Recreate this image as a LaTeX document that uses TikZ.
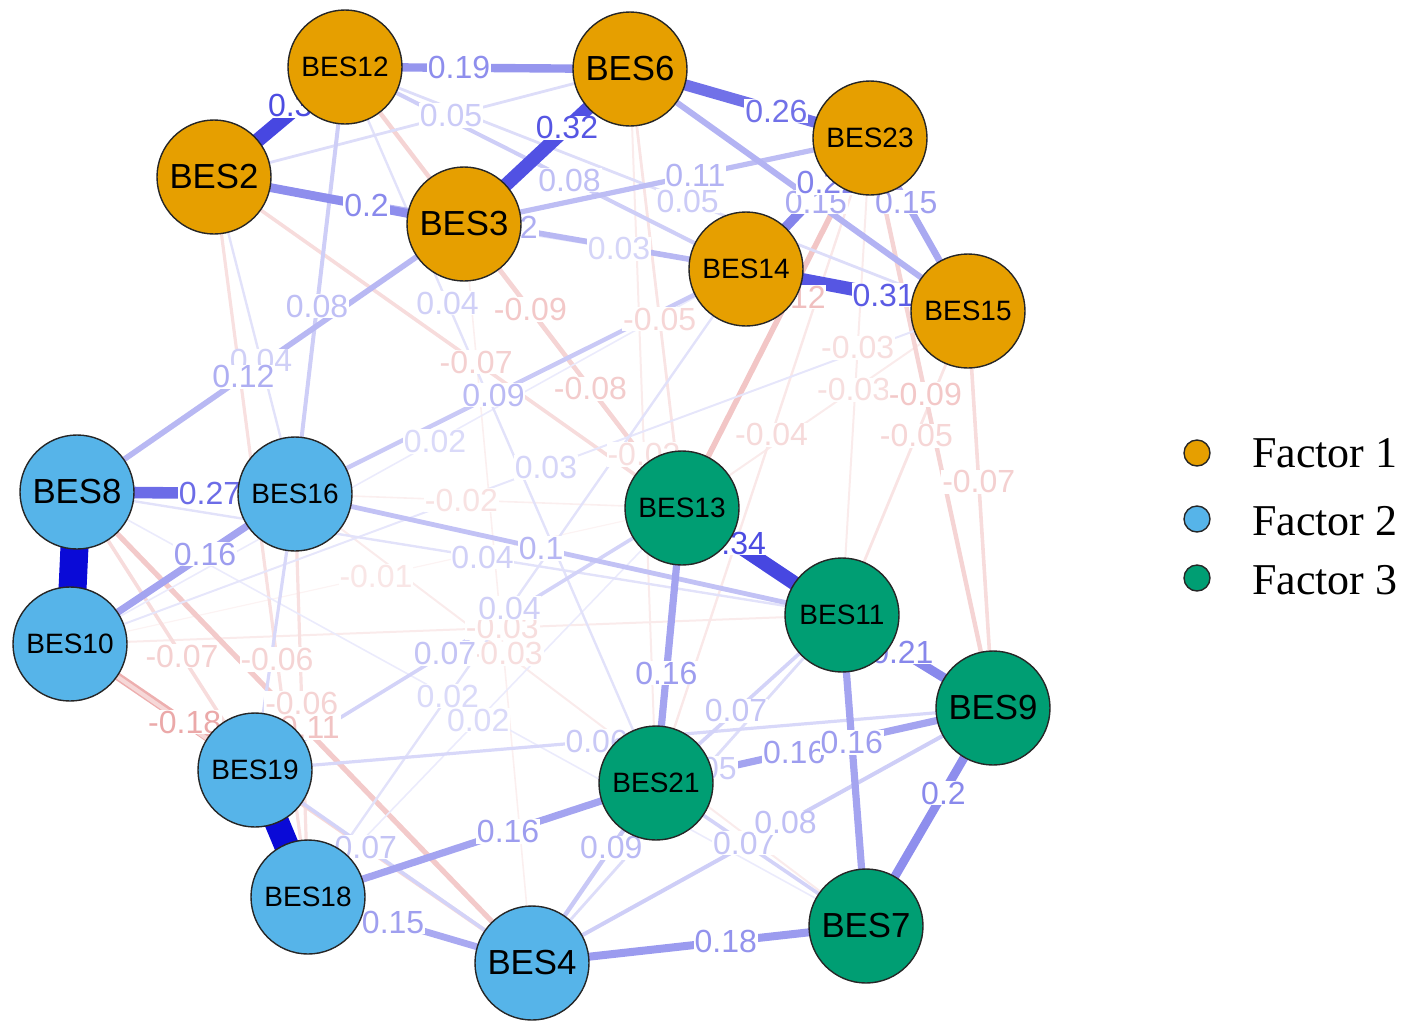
\documentclass[tikz,border=0pt]{standalone}
\usepackage{fontspec}
\setmainfont{Liberation Serif}
\newfontfamily\arialfont{Liberation Sans}
\usepackage{xcolor}

\definecolor{fac1}{RGB}{230,159,0}
\definecolor{fac2}{RGB}{86,180,233}
\definecolor{fac3}{RGB}{0,158,115}
\definecolor{posc}{RGB}{10,10,215}
\definecolor{negc}{RGB}{210,60,60}

\pgfdeclarelayer{edges}
\pgfdeclarelayer{labels}
\pgfsetlayers{edges,labels,main}

\tikzset{
  bes/.style={circle, draw=black!85, line width=0.7pt, minimum size=57pt, inner sep=0pt, text=black},
  besfour/.style={bes, font=\arialfont\fontsize{17.4}{19}\selectfont},
  besfive/.style={bes, font=\arialfont\fontsize{14}{16}\selectfont},
  wlabel/.style={fill=white, inner sep=0.4pt, font=\arialfont\fontsize{16}{17}\selectfont},
  key/.style={circle, draw=black!85, line width=0.7pt, minimum size=13pt, inner sep=0pt},
  keytext/.style={anchor=west, font=\fontsize{22}{24}\selectfont}
}

% from/to/weight/label/pos
\def\posedges{BES10/BES14/2/0.02/0.54, BES8/BES7/2/0.02/0.47, BES18/BES13/2/0.02/0.455,
  BES10/BES15/3/0.03/0.53, BES3/BES14/3/0.03/0.55, BES2/BES16/4/0.04/0.58,
  BES8/BES11/4/0.04/0.53, BES18/BES14/4/0.04/0.46, BES12/BES21/4/0.04/0.33,
  BES12/BES15/5/0.05/0.55, BES2/BES6/5/0.05/0.57, BES4/BES11/5/0.05/0.56,
  BES19/BES9/6/0.06/0.463, BES19/BES13/7/0.07/0.445, BES21/BES11/7/0.07/0.43,
  BES21/BES7/7/0.07/0.42, BES19/BES4/7/0.07/0.4, BES12/BES14/8/0.08/0.56,
  BES12/BES16/8/0.08/0.56, BES4/BES9/8/0.08/0.55, BES16/BES14/9/0.09/0.44,
  BES4/BES21/9/0.09/0.64, BES16/BES11/10/0.1/0.45, BES3/BES23/11/0.11/0.57,
  BES8/BES3/12/0.12/0.43, BES2/BES14/12/0.12/0.55, BES6/BES15/13/0.15/0.55,
  BES23/BES15/15/0.15/0.37, BES18/BES4/15/0.15/0.38, BES13/BES21/16/0.16/0.6,
  BES21/BES9/16/0.16/0.41, BES11/BES7/16/0.16/0.41, BES18/BES21/16/0.16/0.575,
  BES10/BES16/16/0.16/0.6, BES4/BES7/18/0.18/0.58, BES12/BES6/19/0.19/0.4,
  BES2/BES3/20/0.2/0.61, BES9/BES7/20/0.2/0.39, BES11/BES9/21/0.21/0.4,
  BES23/BES14/22/0.22/0.34, BES6/BES23/26/0.26/0.61, BES8/BES16/27/0.27/0.61,
  BES14/BES15/31/0.31/0.62, BES3/BES6/32/0.32/0.62, BES2/BES12/34/0.34/0.65,
  BES13/BES11/34/0.34/0.33}
\def\negedges{BES10/BES13/1/-0.01/0.5, BES16/BES13/2/-0.02/0.43,
  BES16/BES7/3/-0.03/0.37, BES10/BES11/3/-0.03/0.56, BES6/BES21/3/-0.03/0.54,
  BES23/BES11/3/-0.03/0.44, BES15/BES13/3/-0.03/0.4, BES23/BES21/4/-0.04/0.46,
  BES6/BES13/5/-0.05/0.57, BES15/BES11/5/-0.05/0.41, BES16/BES18/6/-0.06/0.52,
  BES2/BES18/6/-0.06/0.67, BES2/BES13/7/-0.07/0.56, BES8/BES19/7/-0.07/0.59,
  BES15/BES9/7/-0.07/0.43, BES3/BES13/8/-0.08/0.58, BES12/BES13/9/-0.09/0.55,
  BES23/BES9/9/-0.09/0.45, BES8/BES4/11/-0.11/0.5, BES13/BES23/12/-0.12/0.57,
  BES10/BES19/18/-0.18/0.62}
% edges whose labels are hidden
\def\hiddenpos{BES16/BES19/6, BES8/BES10/68, BES19/BES18/60}
\def\hiddenneg{BES3/BES4/2, BES10/BES4/8}

\begin{document}
\begin{tikzpicture}[x=0.5pt, y=-0.5pt]
  \useasboundingbox (0,0) rectangle (1414,1034);

  % factor 1
  \node[besfive, fill=fac1] (BES12) at (345,67) {BES12};
  \node[besfour, fill=fac1] (BES6) at (630,69) {BES6};
  \node[besfive, fill=fac1] (BES23) at (870,138) {BES23};
  \node[besfour, fill=fac1] (BES2) at (214,177) {BES2};
  \node[besfour, fill=fac1] (BES3) at (464,224) {BES3};
  \node[besfive, fill=fac1] (BES14) at (746,269) {BES14};
  \node[besfive, fill=fac1] (BES15) at (968,311) {BES15};
  % factor 2
  \node[besfour, fill=fac2] (BES8) at (77,492) {BES8};
  \node[besfive, fill=fac2] (BES16) at (295,494) {BES16};
  \node[besfive, fill=fac2] (BES10) at (70,644) {BES10};
  \node[besfive, fill=fac2] (BES19) at (255,770) {BES19};
  \node[besfive, fill=fac2] (BES18) at (308,897) {BES18};
  \node[besfour, fill=fac2] (BES4) at (532,963) {BES4};
  % factor 3
  \node[besfive, fill=fac3] (BES13) at (682,508) {BES13};
  \node[besfive, fill=fac3] (BES11) at (842,615) {BES11};
  \node[besfour, fill=fac3] (BES9) at (993,708) {BES9};
  \node[besfive, fill=fac3] (BES21) at (656,783) {BES21};
  \node[besfour, fill=fac3] (BES7) at (866,926) {BES7};

  % legend
  \node[key, fill=fac1] (key1) at (1197,453) {};
  \node[key, fill=fac2] (key2) at (1197,519) {};
  \node[key, fill=fac3] (key3) at (1197,578) {};
  \node[keytext] (lab1) at (1245,453) {Factor 1};
  \node[keytext] (lab2) at (1245,521) {Factor 2};
  \node[keytext] (lab3) at (1245,580) {Factor 3};

  % edges
  \begin{pgfonlayer}{edges}
    \foreach \a/\b/\w/\l/\p in \negedges {
      \pgfmathsetmacro\ew{0.4+0.2*\w}
      \pgfmathtruncatemacro\ei{min(100,4+2.1*\w)}
      \draw[line width=\ew pt, draw=negc!\ei!white] (\a.center) -- (\b.center);
    }
    \foreach \a/\b/\w in \hiddenneg {
      \pgfmathsetmacro\ew{0.4+0.2*\w}
      \pgfmathtruncatemacro\ei{min(100,4+2.1*\w)}
      \draw[line width=\ew pt, draw=negc!\ei!white] (\a.center) -- (\b.center);
    }
    \foreach \a/\b/\w/\l/\p in \posedges {
      \pgfmathsetmacro\ew{0.4+0.2*\w}
      \pgfmathtruncatemacro\ei{min(100,4+2.1*\w)}
      \draw[line width=\ew pt, draw=posc!\ei!white] (\a.center) -- (\b.center);
    }
    \foreach \a/\b/\w in \hiddenpos {
      \pgfmathsetmacro\ew{0.4+0.2*\w}
      \pgfmathtruncatemacro\ei{min(100,4+2.1*\w)}
      \draw[line width=\ew pt, draw=posc!\ei!white] (\a.center) -- (\b.center);
    }
  \end{pgfonlayer}

  % edge labels
  \begin{pgfonlayer}{labels}
    \foreach \a/\b/\w/\l/\p in \negedges {
      \pgfmathtruncatemacro\ei{min(100,12+1.8*\w)}
      \path (\a.center) -- node[wlabel, pos=\p, text=negc!\ei!white] {\l} (\b.center);
    }
    \foreach \a/\b/\w/\l/\p in \posedges {
      \pgfmathtruncatemacro\ei{min(100,12+1.8*\w)}
      \path (\a.center) -- node[wlabel, pos=\p, text=posc!\ei!white] {\l} (\b.center);
    }
  \end{pgfonlayer}
\end{tikzpicture}
\end{document}
